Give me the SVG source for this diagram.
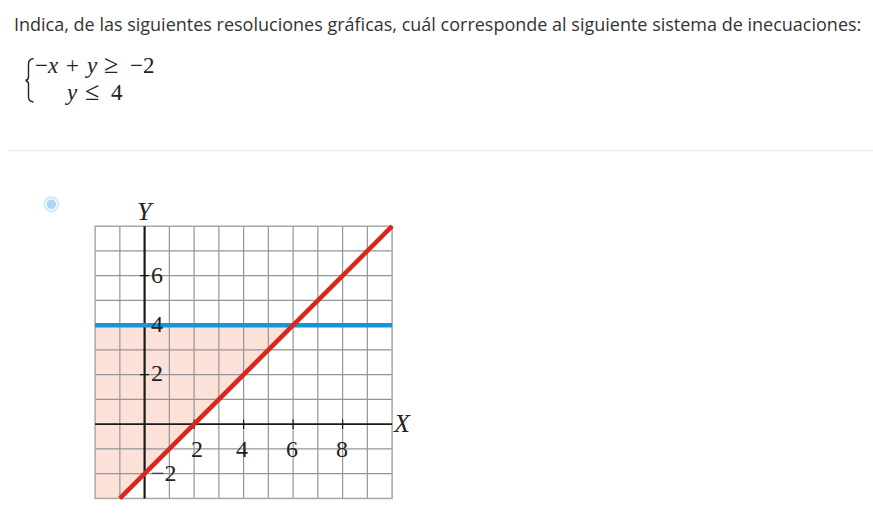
<svg xmlns="http://www.w3.org/2000/svg" width="873" height="526" viewBox="0 0 873 526">
<style>
.hdr{font-family:"Open Sans","Liberation Sans",sans-serif;font-size:18px;fill:#333}
.m{font-family:"Liberation Serif","DejaVu Serif",serif;font-size:23px;fill:#222}
.mi{font-style:italic}
.op{font-size:26px}
.g{stroke:#959595;stroke-width:1.2;fill:none}
.ax{stroke:#1a1a1a;fill:none}
.lbl{font-family:"Liberation Serif","DejaVu Serif",serif;font-size:24px;fill:#222}
.al{font-family:"Liberation Serif","DejaVu Serif",serif;font-size:26px;font-style:italic;fill:#222}
</style>
<rect width="873" height="526" fill="#fff"/>
<g id="question">
<text class="hdr" x="14" y="31">Indica, de las siguientes resoluciones gráficas, cuál corresponde al siguiente sistema de inecuaciones:</text>
</g>
<g id="system">
<path d="M33.5,58.5 C29.5,59 28.5,61 28.5,64 L28.5,77 C28.5,79 27.5,80 25.5,80.5 M25.5,80.5 C27.5,81 28.5,82 28.5,84 L28.5,97 C28.5,100 29.5,101.5 33.5,102" fill="none" stroke="#222" stroke-width="1.4"/>
<text class="m" y="73"><tspan x="35">−</tspan><tspan class="mi" x="48">x</tspan><tspan x="66">+</tspan><tspan class="mi" x="87">y</tspan><tspan class="op" x="104">≥</tspan><tspan x="130">−2</tspan></text>
<text class="m" y="100"><tspan class="mi" x="67">y</tspan><tspan class="op" x="85">≤</tspan><tspan x="111">4</tspan></text>
</g>
<line x1="8" y1="150.5" x2="873" y2="150.5" stroke="#ebebeb" stroke-width="1"/>
<g id="radio">
<circle cx="51.3" cy="204.3" r="7" fill="#fff" stroke="#cfe8fa" stroke-width="2"/>
<circle cx="51.3" cy="204.3" r="4.8" fill="#a9d8f6"/>
</g>
<g id="graph">
<polygon points="95.1,325.2 293.1,325.2 119.85,498.45 95.1,498.45" fill="#fbe1d8"/>
<path class="g" d="M119.85,226.2V498.45M169.35,226.2V498.45M194.1,226.2V498.45M218.85,226.2V498.45M243.6,226.2V498.45M268.35,226.2V498.45M293.1,226.2V498.45M317.85,226.2V498.45M342.6,226.2V498.45M367.35,226.2V498.45M95.1,250.95H392.1M95.1,275.7H392.1M95.1,300.45H392.1M95.1,349.95H392.1M95.1,374.7H392.1M95.1,399.45H392.1M95.1,448.95H392.1M95.1,473.7H392.1"/>
<rect x="95.1" y="226.2" width="297" height="272.25" fill="none" stroke="#a8a8a8" stroke-width="1.5"/>
<line class="ax" x1="95.1" y1="424.2" x2="392.1" y2="424.2" stroke-width="1.7"/>
<line class="ax" x1="144.6" y1="226.2" x2="144.6" y2="498.45" stroke-width="2.2"/>
<path class="ax" stroke-width="1.2" d="M140,275.7H149M140,325.2H149M140,374.7H149M194.1,419.5V429M243.6,419.5V429M293.1,419.5V429M342.6,419.5V429"/>
<line x1="95.1" y1="325.2" x2="392.1" y2="325.2" stroke="#1596d8" stroke-width="4.5"/>
<line x1="119.85" y1="498.45" x2="392.1" y2="226.2" stroke="#d9271d" stroke-width="4.5"/>
<text class="lbl" x="151" y="283">6</text>
<text class="lbl" x="151" y="332">4</text>
<text class="lbl" x="151" y="381">2</text>
<text class="lbl" x="191" y="457">2</text>
<text class="lbl" x="236" y="457">4</text>
<text class="lbl" x="286" y="457">6</text>
<text class="lbl" x="336" y="457">8</text>
<text class="lbl" x="151" y="481">−2</text>
<text class="al" x="137" y="220">Y</text>
<text class="al" x="394" y="432">X</text>
</g>
</svg>
